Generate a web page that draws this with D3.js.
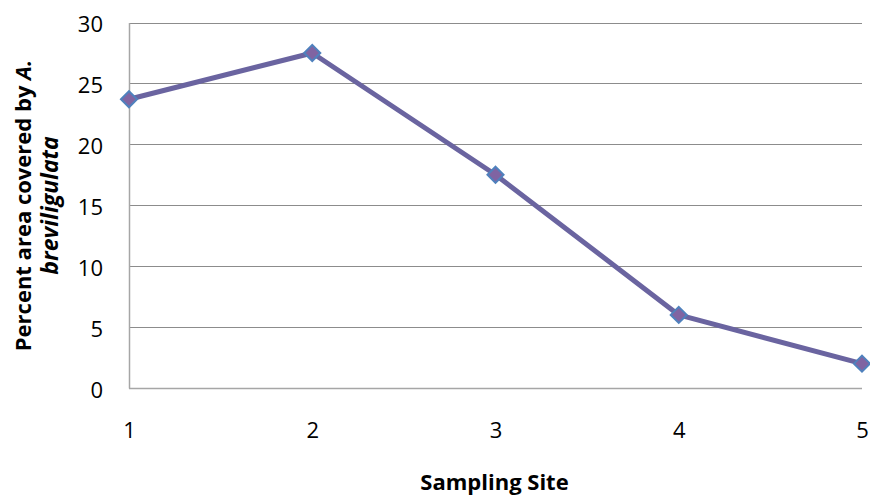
<!DOCTYPE html>
<html><head><meta charset="utf-8">
<script src="https://cdn.jsdelivr.net/npm/d3@7"></script>
<style>body{margin:0;background:#fff;} svg{display:block;}</style>
</head><body>
<svg id="c" width="870" height="498"></svg>
<script>
const sites = [1, 2, 3, 4, 5];
const coverage = [23.7, 27.5, 17.5, 6.0, 2.0];
const yTicks = [0, 5, 10, 15, 20, 25, 30];
const xLabel = "Sampling Site";
const yLabelLine1 = "Percent area covered by ";
const yLabelItalic = "A.";
const yLabelLine2 = "breviligulata";

const svg = d3.select("#c");
const font = "'Open Sans', 'Liberation Sans', sans-serif";
const x = d3.scaleLinear().domain([1, 5]).range([129, 862]);
const y = d3.scaleLinear().domain([0, 30]).range([388, 22.5]);

// gridlines
svg.append("g").selectAll("line").data(yTicks.filter(d => d > 0)).join("line")
  .attr("x1", x(1)).attr("x2", x(5))
  .attr("y1", d => Math.round(y(d)) + 0.5).attr("y2", d => Math.round(y(d)) + 0.5)
  .attr("stroke", "#8c8c8c").attr("stroke-width", 1);

// y axis
const yAxis = d3.axisLeft(y).tickValues(yTicks).tickSize(0).tickPadding(26);
const gy = svg.append("g").attr("transform", `translate(${x(1)},0)`).call(yAxis);
gy.select(".domain").attr("stroke", "#a6a6a6").attr("stroke-width", 1.5);
gy.selectAll("text").attr("font-family", font).attr("font-size", 22).attr("fill", "#000").attr("dy", "0.41em");

// bottom baseline line
svg.append("line").attr("x1", x(1)).attr("x2", x(5))
  .attr("y1", Math.round(y(0)) + 0.5).attr("y2", Math.round(y(0)) + 0.5)
  .attr("stroke", "#a6a6a6").attr("stroke-width", 1.5);

// x axis labels
const xAxis = d3.axisBottom(x).tickValues(sites).tickFormat(d3.format("d")).tickSize(0).tickPadding(34);
const gx = svg.append("g").attr("transform", `translate(0,${y(0)})`).call(xAxis);
gx.select(".domain").remove();
gx.selectAll("text").attr("font-family", font).attr("font-size", 22).attr("fill", "#000");

// line
const line = d3.line().x((d, i) => x(sites[i])).y(d => y(d));
svg.append("path").datum(coverage).attr("d", line)
  .attr("fill", "none").attr("stroke", "#6a64a0").attr("stroke-width", 5)
  .attr("stroke-linejoin", "round");

// markers
const sym = d3.symbol().type(d3.symbolDiamond2).size(165);
svg.append("g").selectAll("path").data(coverage).join("path")
  .attr("d", sym)
  .attr("transform", (d, i) => `translate(${x(sites[i])},${y(d)})`)
  .attr("fill", "#8064a2").attr("stroke", "#4f81bd").attr("stroke-width", 2);

// x title
svg.append("text").attr("x", 494.5).attr("y", 490)
  .attr("text-anchor", "middle").attr("font-family", font).attr("font-weight", "bold")
  .attr("font-size", 22).text(xLabel);

// y title
const yt = svg.append("text").attr("transform", "translate(31,205.5) rotate(-90)")
  .attr("text-anchor", "middle").attr("font-family", font).attr("font-weight", "bold")
  .attr("font-size", 22);
yt.append("tspan").text(yLabelLine1);
yt.append("tspan").attr("font-style", "italic").text(yLabelItalic);
svg.append("text").attr("transform", "translate(58,205.5) rotate(-90)")
  .attr("text-anchor", "middle").attr("font-family", font).attr("font-weight", "bold")
  .attr("font-style", "italic").attr("font-size", 23).text(yLabelLine2);
</script>
</body></html>
